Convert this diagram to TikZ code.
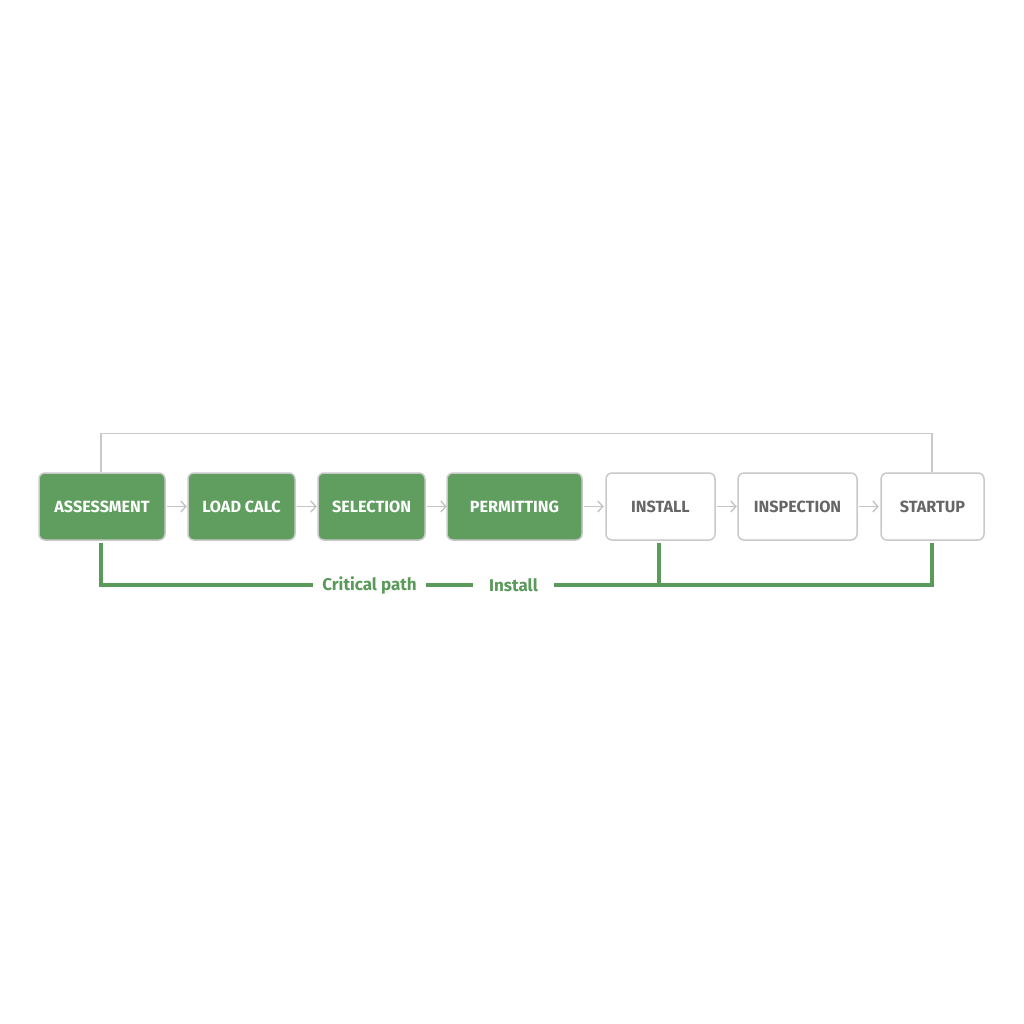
\documentclass[tikz,border=0pt]{standalone}
\usepackage{fontspec}
\setmainfont{Fira Sans}
\usetikzlibrary{arrows.meta}
\definecolor{gfill}{HTML}{5F9E5F}
\definecolor{gline}{HTML}{5A9A5A}
\definecolor{bord}{HTML}{C9C9C9}
\definecolor{arr}{HTML}{C4C4C4}
\definecolor{dtext}{HTML}{666666}
\tikzset{
  stage/.style={draw=bord, line width=1.5pt, rounded corners=6pt, minimum height=67pt, inner sep=0pt,
    font=\fontsize{16.2}{18}\selectfont\bfseries},
  done/.style={stage, fill=gfill, text=white},
  todo/.style={stage, fill=white, text=dtext},
  flow/.style={draw=arr, line width=1.4pt, -{Straight Barb[length=5pt, width=11pt, line width=1.4pt]}},
  loop/.style={draw=bord, line width=1.6pt},
  crit/.style={draw=gline, line width=4pt},
  critlab/.style={text=gline, font=\fontsize{17}{19}\selectfont\bfseries, inner sep=0pt}
}
\begin{document}
\begin{tikzpicture}[x=1pt,y=-1pt]
\useasboundingbox[fill=white] (0,0) rectangle (1024,1024);
\node[done, minimum width=126pt] (a) at (102,506.5) {ASSESSMENT};
\node[done, minimum width=107pt] (l) at (241.5,506.5) {LOAD CALC};
\node[done, minimum width=107pt] (s) at (371.5,506.5) {SELECTION};
\node[done, minimum width=135pt] (p) at (514.5,506.5) {PERMITTING};
\node[todo, minimum width=109pt] (i) at (660.5,506.5) {INSTALL};
\node[todo, minimum width=119pt] (n) at (797.5,506.5) {INSPECTION};
\node[todo, minimum width=103pt] (t) at (932.5,506.5) {STARTUP};
\draw[flow] (a.east) ++(1,0) -- ++(20,0);
\draw[flow] (l.east) ++(1,0) -- ++(20,0);
\draw[flow] (s.east) ++(1,0) -- ++(20,0);
\draw[flow] (p.east) ++(1,0) -- ++(20,0);
\draw[flow] (i.east) ++(1,0) -- ++(20,0);
\draw[flow] (n.east) ++(1,0) -- ++(20,0);
% loop line over top
\coordinate (la) at (101,472);
\coordinate (lt) at (932,472);
\draw[loop] (la) -- (101,433.5) -- (932,433.5) -- (lt);
% critical path
\node[critlab] (cp) at (369.5,585) {Critical path};
\node[critlab] (il) at (513.5,585) {Install};
\coordinate (ab) at (101,543);
\coordinate (ib) at (659,543);
\coordinate (tb) at (932,543);
\coordinate (c1) at (313,585);
\coordinate (c2) at (426,585);
\coordinate (c3) at (473,585);
\coordinate (c4) at (554,585);
\draw[crit] (ab) -- (101,585) -- (c1);
\draw[crit] (c2) -- (c3);
\draw[crit] (c4) -- (932,585) -- (tb);
\draw[crit] (ib) -- (659,585);
\end{tikzpicture}
\end{document}
